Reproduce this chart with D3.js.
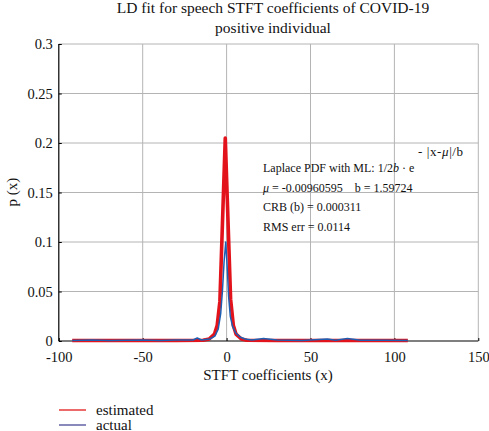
<!DOCTYPE html>
<html><head><meta charset="utf-8">
<script src="https://cdn.jsdelivr.net/npm/d3@7"></script>
<style>body{margin:0;background:#fff}svg{display:block}text{font-family:"Liberation Serif","DejaVu Serif",serif;fill:#111;white-space:pre}</style>
</head><body>
<svg id="c" width="489" height="431"></svg>
<script>
const titleLines = ["LD fit for speech STFT coefficients of COVID-19", "positive individual"];
const xTicks = [-100, -50, 0, 50, 100, 150];
const xTickLabels = ["-100", "-50", "0", "50", "100", "150"];
const yTicks = [0, 0.05, 0.1, 0.15, 0.2, 0.25, 0.3];
const yTickLabels = ["0", "0.05", "0.1", "0.15", "0.2", "0.25", "0.3"];
const estX = [-92, -60, -30, -14, -10.4, -7.2, -5.6, -4.0, -0.8, 2.4, 4.0, 5.6, 8.8, 12, 30, 60, 90, 108];
const estY = [0.0005, 0.0005, 0.0005, 0.0008, 0.002, 0.007, 0.016, 0.04, 0.205, 0.042, 0.016, 0.007, 0.002, 0.0008, 0.0005, 0.0005, 0.0005, 0.0005];
const actX = [-92, -80, -70, -60, -50, -40, -30, -20, -17.5, -15, -10, -7, -5, -3.5, -2.5, -1.5, -0.5, 0.5, 1.2, 2.2, 3.5, 5.5, 8, 11, 15, 22, 30, 45, 50, 60, 65, 72, 80, 95, 108];
const actY = [0.0005, 0.001, 0.0006, 0.0008, 0.001, 0.0005, 0.001, 0.001, 0.003, 0.001, 0.002, 0.005, 0.012, 0.028, 0.05, 0.08, 0.1, 0.07, 0.045, 0.025, 0.015, 0.008, 0.004, 0.002, 0.001, 0.0025, 0.001, 0.0005, 0.001, 0.002, 0.0008, 0.0025, 0.0008, 0.0008, 0.0005];
const legendNames = ["estimated", "actual"];
// annotation lines as [text, italic] pieces
const annotation = [
  [["Laplace PDF with ML: 1/2", false], ["b", true], [" · e", false]],
  [["μ", true], [" = -0.00960595    b = 1.59724", false]],
  [["CRB (b) = 0.000311", false]],
  [["RMS err = 0.0114", false]]
];
const superscript = [["- |x-", false], ["μ", true], ["|/b", false]];

const svg = d3.select("#c");
const L = 58.8, R = 478.3, T = 44, B = 341;
const x = d3.scaleLinear().domain([-100, 150]).range([L, R]);
const y = d3.scaleLinear().domain([0, 0.3]).range([B, T]);

// grid
svg.append("g").selectAll("line").data(xTicks.slice(1)).join("line")
  .attr("x1", d => x(d)).attr("x2", d => x(d)).attr("y1", T).attr("y2", B)
  .attr("stroke", "#b4b4b4").attr("stroke-width", 1);
svg.append("g").selectAll("line").data(yTicks.slice(1)).join("line")
  .attr("x1", L).attr("x2", R).attr("y1", d => y(d)).attr("y2", d => y(d))
  .attr("stroke", "#b4b4b4").attr("stroke-width", 1);

// axes
const xAxis = svg.append("g").attr("transform", `translate(0,${B})`)
  .call(d3.axisBottom(x).tickValues(xTicks).tickSize(-3).tickPadding(8).tickFormat((d, i) => xTickLabels[i]));
const yAxis = svg.append("g").attr("transform", `translate(${L},0)`)
  .call(d3.axisLeft(y).tickValues(yTicks).tickSize(-3).tickPadding(6).tickFormat((d, i) => yTickLabels[i]));
[xAxis, yAxis].forEach(a => {
  a.select(".domain").attr("stroke", "#000").attr("stroke-width", 1.2);
  a.selectAll(".tick line").attr("stroke", "#000");
  a.selectAll(".tick text").style("font-family", '"Liberation Serif",serif').style("font-size", "14.5px").attr("fill", "#111");
});
xAxis.selectAll(".tick text").attr("dy", "0.9em");
xAxis.select(".domain").attr("d", `M${L},0H${R}`);
yAxis.select(".domain").attr("d", `M0,${B}V${T}`);

// lines
const line = d3.line().x(d => x(d[0])).y(d => y(d[1]));
svg.append("path").datum(d3.zip(estX, estY)).attr("d", line)
  .attr("fill", "none").attr("stroke", "#e3131b").attr("stroke-width", 3.6).attr("stroke-linejoin", "round");
svg.append("path").datum(d3.zip(actX, actY)).attr("d", line)
  .attr("fill", "none").attr("stroke", "#1f5fb3").attr("stroke-width", 1.5).attr("stroke-linejoin", "round");

// title
svg.append("g").selectAll("text").data(titleLines).join("text")
  .attr("x", 273).attr("y", (d, i) => 13 + i * 19.5).attr("text-anchor", "middle")
  .style("font-size", "15.5px").text(d => d);

// axis labels
svg.append("text").attr("x", 268).attr("y", 380).attr("text-anchor", "middle")
  .style("font-size", "15px").text("STFT coefficients (x)");
svg.append("text").attr("transform", "translate(17,192) rotate(-90)").attr("text-anchor", "middle")
  .style("font-size", "15px").text("p (x)");

// annotation
function rich(sel, parts) {
  sel.selectAll("tspan").data(parts).join("tspan")
    .style("font-style", d => d[1] ? "italic" : "normal").text(d => d[0]);
}
svg.append("g").selectAll("text").data(annotation).join("text")
  .attr("x", 263).attr("y", (d, i) => 172 + i * 19.5)
  .style("font-size", "12px").each(function(d) { rich(d3.select(this), d); });
rich(svg.append("text").attr("x", 418).attr("y", 156).style("font-size", "13px").style("letter-spacing", "0.6px"), superscript);

// legend
const legColors = ["#e31a1a", "#4a4a96"];
const lg = svg.append("g").selectAll("g").data(legendNames).join("g")
  .attr("transform", (d, i) => `translate(0,${410 + i * 15})`);
lg.append("line").attr("x1", 59).attr("x2", 86).attr("y1", 0).attr("y2", 0)
  .attr("stroke", (d, i) => legColors[i]).attr("stroke-width", 1.3);
lg.append("text").attr("x", 96).attr("y", 4.5).style("font-size", "15px").text(d => d);
</script>
</body></html>
